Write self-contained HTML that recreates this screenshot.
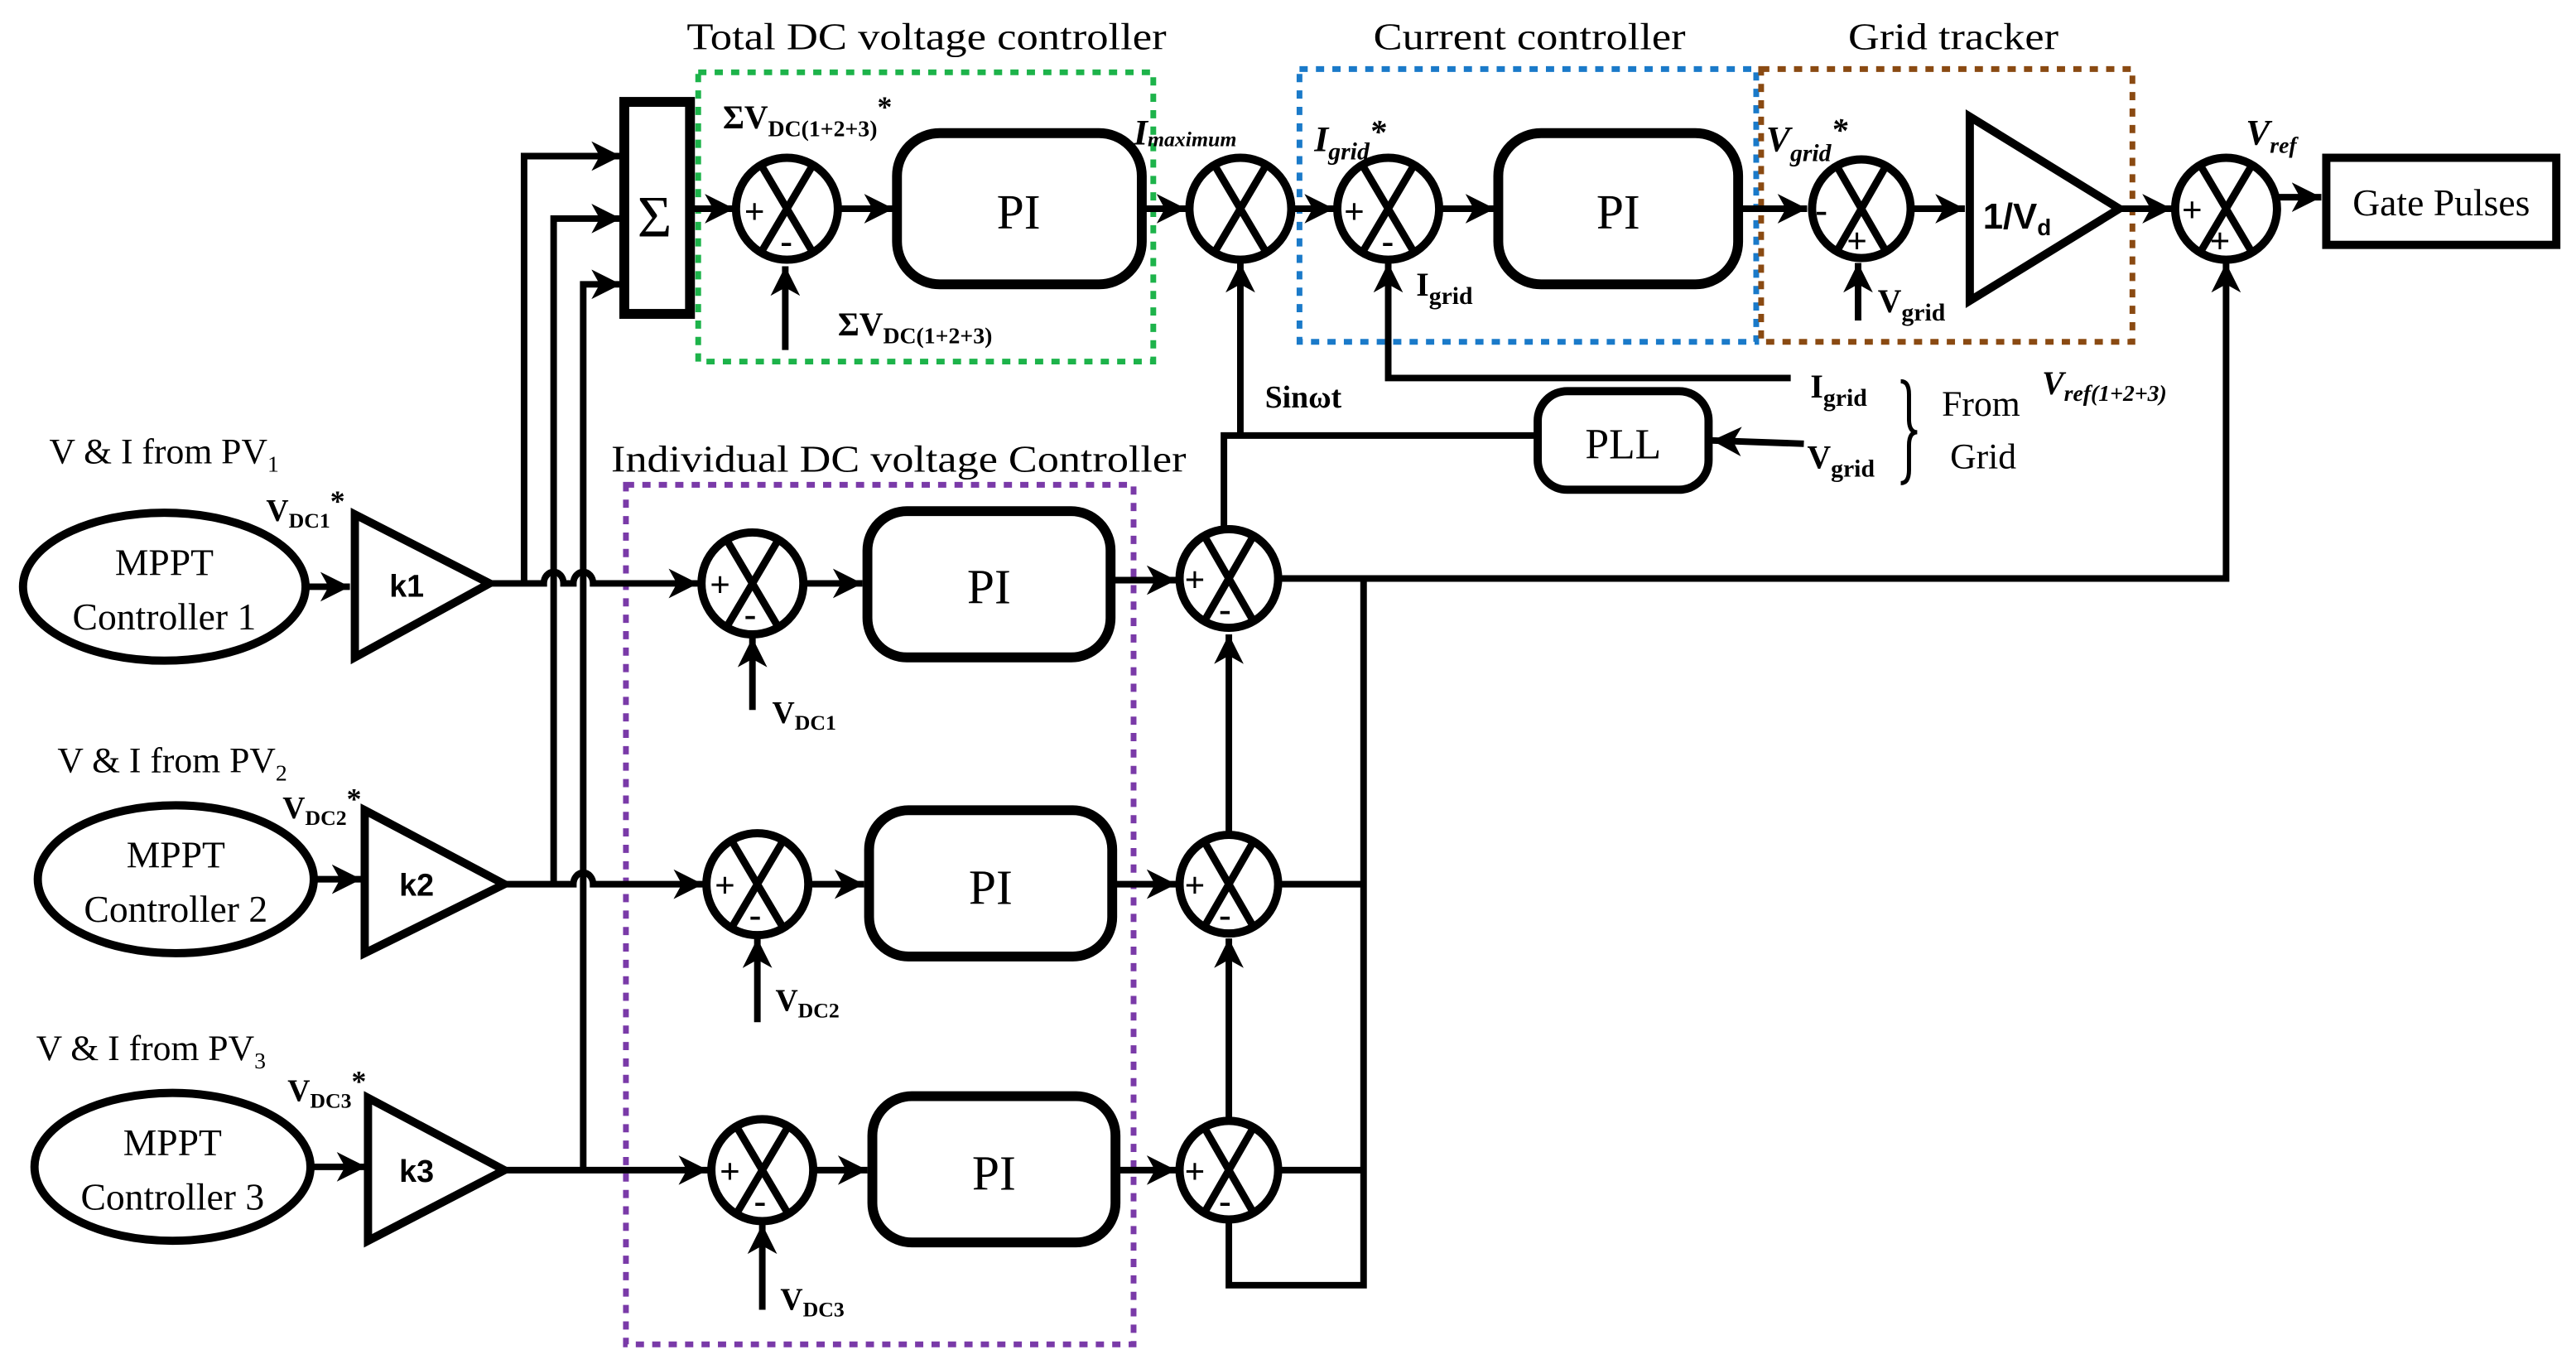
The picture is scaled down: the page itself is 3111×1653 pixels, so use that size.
<!DOCTYPE html>
<html><head><meta charset="utf-8"><style>
html,body{margin:0;padding:0;background:#fff;}
svg{display:block;}
text{font-family:"Liberation Serif",serif;fill:#000;}
.s{font-family:"Liberation Sans",sans-serif;font-weight:bold;}
.b{font-weight:bold;}
.i{font-style:italic;}
</style></head><body>
<svg width="3111" height="1653" viewBox="0 0 1568 833" preserveAspectRatio="none" xmlns="http://www.w3.org/2000/svg">
<defs>
<marker id="a" markerUnits="userSpaceOnUse" markerWidth="20" markerHeight="18" refX="18" refY="9" orient="auto">
<path d="M0,0 L18,9 L0,18 L5,9 Z" fill="#000"/>
</marker>
</defs>
<g fill="none" stroke="#000" stroke-width="4">
<rect x="425" y="44" width="277" height="176" stroke="#1db34a" stroke-width="3.5" stroke-dasharray="5,5"/>
<rect x="791" y="42" width="278" height="166" stroke="#1a7ac9" stroke-width="3.5" stroke-dasharray="5,5"/>
<rect x="1072" y="42" width="226" height="166" stroke="#8a4a12" stroke-width="3.5" stroke-dasharray="5,5"/>
<rect x="381" y="295" width="309" height="523" stroke="#7a3aa8" stroke-width="3.5" stroke-dasharray="5,5"/>

<rect x="380" y="62" width="40" height="129" stroke-width="6"/>
<path d="M319,355 V95 H378" marker-end="url(#a)"/>
<path d="M337,538 V133 H378" marker-end="url(#a)"/>
<path d="M355,712 V173 H378" marker-end="url(#a)"/>
<path d="M420,127 H447" marker-end="url(#a)"/>

<path d="M511,127 H544" marker-end="url(#a)"/>
<rect x="546" y="81" width="149" height="92" rx="26" stroke-width="6"/>
<path d="M695,127 H722" marker-end="url(#a)"/>
<path d="M478,213 V162" marker-end="url(#a)"/>
<path d="M786,127 H812" marker-end="url(#a)"/>
<path d="M876,127 H910" marker-end="url(#a)"/>
<rect x="912" y="81" width="146" height="92" rx="26" stroke-width="6"/>
<path d="M1058,127 H1100" marker-end="url(#a)"/>
<path d="M1090,230 H845 V160" marker-end="url(#a)"/>
<path d="M1131,195 V160" marker-end="url(#a)"/>
<path d="M1164,127 H1196" marker-end="url(#a)"/>
<polygon points="1199,71 1290,127 1199,183" stroke-width="5"/>
<path d="M1290,127 H1322" marker-end="url(#a)"/>
<path d="M1387,120 H1413" marker-end="url(#a)"/>
<rect x="1416" y="96" width="140" height="53" stroke-width="5"/>
<path d="M780,352 H1355 V160" marker-end="url(#a)"/>

<path d="M755,265 V160" marker-end="url(#a)"/>
<path d="M745,322 V265 H936"/>
<rect x="936" y="238" width="104" height="60" rx="18" stroke-width="5"/>
<path d="M1098,270 L1042,268" marker-end="url(#a)"/>
<path d="M1157,232 q5,0 5,8 v15 q0,8 5,8 q-5,0 -5,8 v15 q0,8 -5,8" stroke-width="2.5"/>

<ellipse cx="100" cy="357" rx="86" ry="45" stroke-width="5"/>
<ellipse cx="107" cy="535" rx="84" ry="45" stroke-width="5"/>
<ellipse cx="105" cy="710" rx="84" ry="45" stroke-width="5"/>
<path d="M186,357 H213" marker-end="url(#a)"/>
<path d="M191,535 H220" marker-end="url(#a)"/>
<path d="M189,710 H223" marker-end="url(#a)"/>
<polygon points="216,313 298,355 216,400" stroke-width="5"/>
<polygon points="222,493 307,538 222,580" stroke-width="5"/>
<polygon points="224,668 307,712 224,755" stroke-width="5"/>
<path d="M298,355 H331 a6,7 0 0 1 12,0 H349 a6,7 0 0 1 12,0 H425" marker-end="url(#a)"/>
<path d="M307,538 H349 a6,7 0 0 1 12,0 H428" marker-end="url(#a)"/>
<path d="M307,712 H431" marker-end="url(#a)"/>
<path d="M458,432 V388" marker-end="url(#a)"/>
<path d="M461,622 V571" marker-end="url(#a)"/>
<path d="M464,797 V745" marker-end="url(#a)"/>
<path d="M490,355 H525" marker-end="url(#a)"/>
<path d="M493,538 H526" marker-end="url(#a)"/>
<path d="M496,712 H528" marker-end="url(#a)"/>
<rect x="528" y="311" width="148" height="89" rx="24" stroke-width="6"/>
<rect x="529" y="493" width="148" height="89" rx="24" stroke-width="6"/>
<rect x="531" y="667" width="148" height="89" rx="24" stroke-width="6"/>
<path d="M677,353 H716" marker-end="url(#a)"/>
<path d="M678,538 H716" marker-end="url(#a)"/>
<path d="M680,712 H716" marker-end="url(#a)"/>
<path d="M748,508 V386" marker-end="url(#a)"/>
<path d="M748,682 V571" marker-end="url(#a)"/>
<path d="M748,744 V782 H830 V352"/>
<path d="M780,538 H830 M780,712 H830"/>
</g>

<g fill="#fff" stroke="#000" stroke-width="5">
<circle cx="479" cy="127" r="31"/><circle cx="755" cy="127" r="31"/><circle cx="845" cy="127" r="31"/>
<circle cx="1133" cy="127" r="30"/><circle cx="1355" cy="127" r="31"/>
<circle cx="458" cy="355" r="31"/><circle cx="461" cy="538" r="31"/><circle cx="464" cy="712" r="31"/>
<circle cx="748" cy="352" r="30"/><circle cx="748" cy="538" r="30"/><circle cx="748" cy="712" r="30"/>
</g>
<g stroke="#000" stroke-width="4.5">
<path d="M463,100 l32,54 M495,100 l-32,54"/>
<path d="M739,100 l32,54 M771,100 l-32,54"/>
<path d="M829,100 l32,54 M861,100 l-32,54"/>
<path d="M1118,101 l30,52 M1148,101 l-30,52"/>
<path d="M1339,100 l32,54 M1371,100 l-32,54"/>
<path d="M442,328 l32,54 M474,328 l-32,54"/>
<path d="M445,511 l32,54 M477,511 l-32,54"/>
<path d="M448,685 l32,54 M480,685 l-32,54"/>
<path d="M733,326 l30,52 M763,326 l-30,52"/>
<path d="M733,512 l30,52 M763,512 l-30,52"/>
<path d="M733,686 l30,52 M763,686 l-30,52"/>
</g>
<g class="s" font-size="22">
<text x="453" y="136">+</text><text x="475" y="154">-</text>
<text x="818" y="136">+</text><text x="841" y="154">-</text>
<text x="1105" y="135">-</text><text x="1124" y="154">+</text>
<text x="1328" y="135">+</text><text x="1345" y="154">+</text>
<text x="432" y="363">+</text><text x="453" y="381">-</text>
<text x="435" y="546">+</text><text x="456" y="564">-</text>
<text x="438" y="720">+</text><text x="459" y="738">-</text>
<text x="721" y="360">+</text><text x="742" y="378">-</text>
<text x="721" y="546">+</text><text x="742" y="564">-</text>
<text x="721" y="720">+</text><text x="742" y="738">-</text>
</g>

<text x="418" y="30" font-size="23" textLength="292" lengthAdjust="spacingAndGlyphs">Total DC voltage controller</text>
<text x="836" y="30" font-size="23" textLength="190" lengthAdjust="spacingAndGlyphs">Current controller</text>
<text x="1125" y="30" font-size="23" textLength="128" lengthAdjust="spacingAndGlyphs">Grid tracker</text>
<text x="372" y="287" font-size="23" textLength="350" lengthAdjust="spacingAndGlyphs">Individual DC voltage Controller</text>
<text x="388" y="144" font-size="36" font-family="Liberation Sans,sans-serif">Σ</text>
<text x="440" y="78" font-size="20" class="b">ΣV<tspan font-size="14" dy="5">DC(1+2+3)</tspan><tspan dy="-12" font-size="18">*</tspan></text>
<text x="510" y="204" font-size="20" class="b">ΣV<tspan font-size="14" dy="5">DC(1+2+3)</tspan></text>
<text x="620" y="139" font-size="30" text-anchor="middle">PI</text>
<text x="985" y="139" font-size="30" text-anchor="middle">PI</text>
<text x="602" y="367" font-size="30" text-anchor="middle">PI</text>
<text x="603" y="550" font-size="30" text-anchor="middle">PI</text>
<text x="605" y="724" font-size="30" text-anchor="middle">PI</text>
<text x="690" y="88" font-size="22" class="i b">I<tspan font-size="13" dy="1">maximum</tspan></text>
<text x="800" y="92" font-size="22" class="i b">I<tspan font-size="15" dy="5">grid</tspan><tspan dy="-10" font-size="20">*</tspan></text>
<text x="862" y="180" font-size="20" class="b">I<tspan font-size="15" dy="5">grid</tspan></text>
<text x="1075" y="92" font-size="22" class="i b">V<tspan font-size="15" dy="6">grid</tspan><tspan dy="-12" font-size="20">*</tspan></text>
<text x="1143" y="190" font-size="20" class="b">V<tspan font-size="15" dy="5">grid</tspan></text>
<text x="1207" y="139" font-size="22" class="s">1/V<tspan font-size="14" dy="4">d</tspan></text>
<text x="1367" y="88" font-size="22" class="i b">V<tspan font-size="14" dy="5">ref</tspan></text>
<text x="1486" y="131" font-size="23" text-anchor="middle">Gate Pulses</text>
<text x="770" y="248" font-size="19" class="b">Sinωt</text>
<text x="988" y="279" font-size="26" text-anchor="middle">PLL</text>
<text x="1102" y="242" font-size="20" class="b">I<tspan font-size="15" dy="5">grid</tspan></text>
<text x="1100" y="285" font-size="20" class="b">V<tspan font-size="15" dy="5">grid</tspan></text>
<text x="1182" y="253" font-size="22">From</text>
<text x="1187" y="285" font-size="22">Grid</text>
<text x="1243" y="240" font-size="20" class="i b">V<tspan font-size="14" dy="4">ref(1+2+3)</tspan></text>

<text x="30" y="282" font-size="22">V &amp; I from PV<tspan font-size="14" dy="5">1</tspan></text>
<text x="35" y="470" font-size="22">V &amp; I from PV<tspan font-size="14" dy="5">2</tspan></text>
<text x="22" y="645" font-size="22">V &amp; I from PV<tspan font-size="14" dy="5">3</tspan></text>
<text x="162" y="317" font-size="19" class="b">V<tspan font-size="13" dy="4">DC1</tspan><tspan dy="-10" font-size="18">*</tspan></text>
<text x="172" y="498" font-size="19" class="b">V<tspan font-size="13" dy="4">DC2</tspan><tspan dy="-10" font-size="18">*</tspan></text>
<text x="175" y="670" font-size="19" class="b">V<tspan font-size="13" dy="4">DC3</tspan><tspan dy="-10" font-size="18">*</tspan></text>
<text x="100" y="350" font-size="23" text-anchor="middle">MPPT</text>
<text x="100" y="383" font-size="23" text-anchor="middle">Controller 1</text>
<text x="107" y="528" font-size="23" text-anchor="middle">MPPT</text>
<text x="107" y="561" font-size="23" text-anchor="middle">Controller 2</text>
<text x="105" y="703" font-size="23" text-anchor="middle">MPPT</text>
<text x="105" y="736" font-size="23" text-anchor="middle">Controller 3</text>
<text x="237" y="363" font-size="19" class="s">k1</text>
<text x="243" y="545" font-size="19" class="s">k2</text>
<text x="243" y="719" font-size="19" class="s">k3</text>
<text x="470" y="440" font-size="19" class="b">V<tspan font-size="13" dy="4">DC1</tspan></text>
<text x="472" y="615" font-size="19" class="b">V<tspan font-size="13" dy="4">DC2</tspan></text>
<text x="475" y="797" font-size="19" class="b">V<tspan font-size="13" dy="4">DC3</tspan></text>
</svg>
</body></html>
